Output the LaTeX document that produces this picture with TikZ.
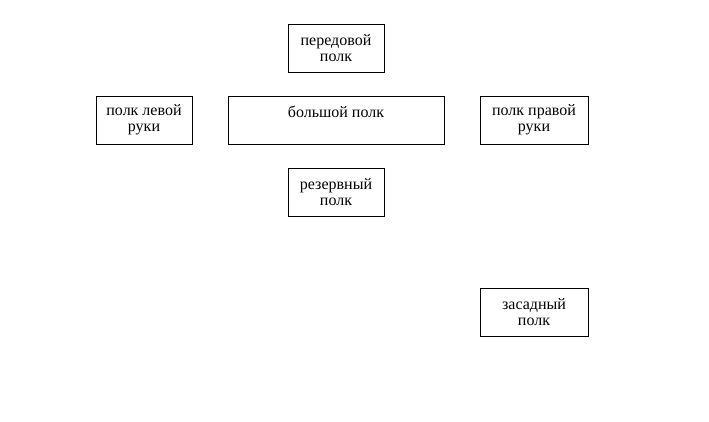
\documentclass[tikz,border=0pt]{standalone}
\usepackage{fontspec}
\setmainfont{Liberation Serif}
\usetikzlibrary{positioning}

\begin{document}
\begin{tikzpicture}[x=0.75pt,y=-0.75pt,
        polk/.style={draw,line width=0.75pt,minimum width=72pt,minimum height=36pt,
            inner sep=0pt,align=center,font=\fontsize{12}{12}\selectfont},
        polkwide/.style={polk,minimum width=81pt}]
                \useasboundingbox (0,0) rectangle (709,421);

                \node[polk] (peredovoy) at (336,48) {передовой\\полк};
                \node[polk] (levoy) at (144,120) {полк левой\\руки};
                \node[polk,minimum width=162pt,text height=7.5pt,text depth=12pt]
                    (bolshoy) at (336,120) {большой полк};
                \node[polkwide] (pravoy) at (534,120) {полк правой\\руки};
                \node[polk] (rezervny) at (336,192) {резервный\\полк};
                \node[polkwide] (zasadny) at (534,312) {засадный\\полк};
            \end{tikzpicture}
\end{document}
